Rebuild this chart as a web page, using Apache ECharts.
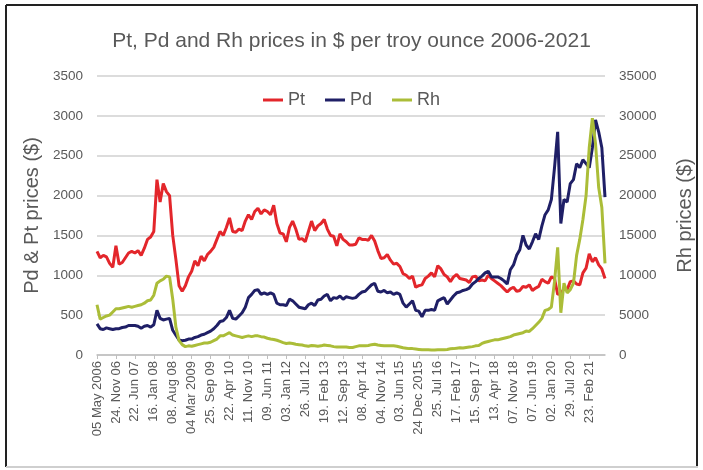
<!DOCTYPE html>
<html>
<head>
<meta charset="utf-8">
<script src="https://cdn.jsdelivr.net/npm/echarts@6/dist/echarts.min.js"></script>
<style>
  html, body { margin: 0; padding: 0; background: #fff; }
  #container { width: 703px; height: 470px; }
</style>
</head>
<body>
<div id="container"></div>
<script>
// one point every ~5 weeks, 6 points between two axis labels
var perTick = 6;

var tickLabels = ['05 May 2006', '24. Nov 06', '22. Jun 07', '16. Jan 08', '08. Aug 08',
    '04 Mar 2009', '25. Sep 09', '22. Apr 10', '11. Nov 10', '09. Jun 11', '03. Jan 12',
    '26. Jul 12', '19. Feb 13', '12. Sep 13', '08. Apr 14', '04. Nov 14', '03. Jun 15',
    '24 Dec 2015', '25. Jul 16', '17. Feb 17', '15. Sep 17', '13. Apr 18', '07. Nov 18',
    '07. Jun 19', '02. Jan 20', '29. Jul 20', '23. Feb 21'];

var pt = [
    1300, 1220, 1250, 1230, 1150, 1100,
    1370, 1140, 1160, 1220, 1280, 1300,
    1280, 1310, 1250, 1340, 1450, 1480,
    1550, 2200, 1920, 2150, 2050, 2000,
    1500, 1200, 870, 800, 870, 980,
    1050, 1180, 1120, 1240, 1180, 1260,
    1300, 1350, 1450, 1550, 1500, 1600,
    1720, 1550, 1540, 1580, 1560, 1680,
    1760, 1700, 1800, 1840, 1770, 1820,
    1800, 1760, 1880, 1650, 1530, 1520,
    1420, 1600, 1680, 1580, 1450, 1460,
    1420, 1550, 1680, 1560, 1620, 1650,
    1700, 1580, 1500, 1490, 1370, 1520,
    1450, 1420, 1380, 1380, 1390, 1470,
    1450, 1450, 1440, 1500, 1430, 1310,
    1210, 1220, 1260, 1190, 1140, 1150,
    1110, 1020, 1000, 960, 990, 850,
    870, 880, 960, 990, 1030, 980,
    1120, 1080, 1010, 980, 920, 980,
    1010, 960, 950, 940, 910, 980,
    990, 930, 940, 930, 1000, 960,
    930, 900, 870, 830, 790, 830,
    850, 800, 810, 860, 850, 880,
    810, 840, 860, 950, 920, 900,
    980, 960, 760, 770, 830, 820,
    920, 930, 890, 880, 1030, 1090,
    1270, 1170, 1220, 1130, 1080, 960
];

var pd = [
    390, 330, 320, 340, 330, 320,
    330, 330, 345, 350, 370, 370,
    370, 360, 335, 360, 370, 350,
    380, 560, 460, 440, 450, 460,
    310, 250, 190, 180, 185, 200,
    200, 220, 230, 250, 260, 280,
    300, 330, 370, 420, 430, 470,
    560, 460, 450, 490, 530, 600,
    720, 760, 810, 820, 760, 780,
    760, 780, 760, 650, 630, 630,
    620, 700, 680, 640, 600, 590,
    580, 630, 650, 620, 690, 700,
    740, 760, 680, 720, 710, 740,
    700, 730, 720, 710, 720, 760,
    790, 800, 840, 880, 900, 800,
    790, 810, 780, 790, 760, 780,
    760, 650, 600, 640, 680, 560,
    550, 480, 560, 560, 570, 560,
    680, 700, 720, 640, 690, 740,
    780, 790, 810, 820, 840, 890,
    920, 960, 990, 1030, 1050, 980,
    980, 980, 960, 930, 890, 1070,
    1130, 1250, 1320, 1500, 1380, 1330,
    1420, 1520, 1450, 1620, 1760, 1820,
    1950, 2350, 2800, 1650, 1950, 1920,
    2150, 2200, 2400, 2350, 2450, 2400,
    2350, 2600, 2950, 2800, 2600, 1980
];

var rh = [
    6300, 4500, 4700, 4900, 5000, 5400,
    5800, 5800, 5900, 6000, 6100, 6000,
    6100, 6200, 6300, 6500, 6800, 6900,
    7500, 9000, 9300, 9500, 9900, 9800,
    7000, 3500, 1800, 1300, 1050, 1150,
    1100, 1200, 1300, 1400, 1500, 1500,
    1600, 1800, 2000, 2400, 2400, 2600,
    2800, 2500, 2400, 2300, 2200, 2300,
    2400, 2300, 2400, 2400, 2300, 2250,
    2100, 2000, 1950, 1850, 1700, 1550,
    1450, 1500, 1450, 1350, 1300, 1250,
    1150, 1100, 1200, 1150, 1100, 1150,
    1250, 1200, 1150, 1050, 1000, 1000,
    1000, 1000, 950, 950, 1050, 1150,
    1150, 1150, 1200, 1300, 1350, 1250,
    1200, 1150, 1150, 1150, 1150, 1100,
    1000, 900, 850, 800, 800, 750,
    700, 650, 650, 650, 620, 620,
    650, 650, 650, 700, 780, 800,
    850, 900, 880, 950, 1000, 1050,
    1150, 1200, 1450, 1600, 1700, 1800,
    1900, 1900, 2000, 2100, 2200, 2300,
    2500, 2600, 2700, 2800, 3000, 2950,
    3300, 3700, 4100, 4600, 5600, 5700,
    6000, 9200, 13500, 5300, 9000, 7800,
    8200, 9000, 12500, 14500, 17000, 20000,
    26000, 29700, 26500, 21000, 18500, 11500
];

var cats = pt.map(function (v, i) { return String(i); });

var gray = '#595959';
var font = 'Liberation Sans';

var dom = document.getElementById('container');
var chart = echarts.init(dom, null, { renderer: 'canvas' });

function onTick(idx) {
    return idx % perTick === 0;
}

function plain(v) {
    return String(v);
}

var option = {
    animation: false,
    backgroundColor: '#fff',
    textStyle: { fontFamily: font },
    title: {
        text: 'Pt, Pd and Rh prices in $ per troy ounce 2006-2021',
        left: 'center',
        top: 26,
        textStyle: { color: gray, fontSize: 21, fontWeight: 'normal', fontFamily: font }
    },
    legend: {
        top: 86,
        left: 'center',
        icon: 'rect',
        itemWidth: 20,
        itemHeight: 3,
        itemGap: 20,
        textStyle: { color: gray, fontSize: 18, fontFamily: font },
        data: ['Pt', 'Pd', 'Rh']
    },
    grid: { left: 97, right: 98, top: 76, bottom: 115 },
    xAxis: {
        type: 'category',
        data: cats,
        boundaryGap: false,
        axisLine: { lineStyle: { color: '#bfbfbf', width: 1.5 } },
        axisTick: { interval: onTick, length: 4, lineStyle: { color: '#bfbfbf' } },
        axisLabel: {
            interval: onTick,
            rotate: 90,
            color: gray,
            fontSize: 13,
            fontFamily: font,
            margin: 6,
            formatter: function (v, i) {
                return tickLabels[i / perTick] || '';
            }
        },
        splitLine: { show: false }
    },
    yAxis: [
        {
            type: 'value',
            min: 0,
            max: 3500,
            interval: 500,
            name: 'Pd & Pt prices ($)',
            nameLocation: 'middle',
            nameGap: 36,
            nameTextStyle: { color: gray, fontSize: 20, fontFamily: font },
            axisLine: { show: false },
            axisTick: { show: false },
            axisLabel: { color: gray, fontSize: 13.5, fontFamily: font, margin: 14, formatter: plain },
            splitLine: { lineStyle: { color: '#d0d0d0', width: 1.5 } }
        },
        {
            type: 'value',
            min: 0,
            max: 35000,
            interval: 5000,
            name: 'Rh prices ($)',
            nameLocation: 'middle',
            nameGap: 70,
            nameTextStyle: { color: gray, fontSize: 20, fontFamily: font },
            axisLine: { show: false },
            axisTick: { show: false },
            axisLabel: { color: gray, fontSize: 13.5, fontFamily: font, margin: 14, formatter: plain },
            splitLine: { show: false }
        }
    ],
    series: [
        {
            name: 'Pt',
            type: 'line',
            data: pt,
            showSymbol: false,
            color: '#e3262b',
            lineStyle: { width: 3 }
        },
        {
            name: 'Pd',
            type: 'line',
            data: pd,
            showSymbol: false,
            color: '#1f1f66',
            lineStyle: { width: 3 }
        },
        {
            name: 'Rh',
            type: 'line',
            yAxisIndex: 1,
            data: rh,
            showSymbol: false,
            color: '#abbd38',
            lineStyle: { width: 3 }
        }
    ],
    graphic: [
        // frame round the whole picture
        { type: 'line', shape: { x1: 6, y1: 5, x2: 698, y2: 5 }, style: { stroke: '#222', lineWidth: 2 } },
        { type: 'line', shape: { x1: 6, y1: 5, x2: 6, y2: 467 }, style: { stroke: '#222', lineWidth: 2 } },
        { type: 'line', shape: { x1: 697, y1: 5, x2: 697, y2: 467 }, style: { stroke: '#222', lineWidth: 2 } },
        { type: 'line', shape: { x1: 6, y1: 467, x2: 698, y2: 467 }, style: { stroke: '#cfcfcf', lineWidth: 2 } }
    ]
};

chart.setOption(option);
window.addEventListener('resize', chart.resize);
</script>
</body>
</html>
